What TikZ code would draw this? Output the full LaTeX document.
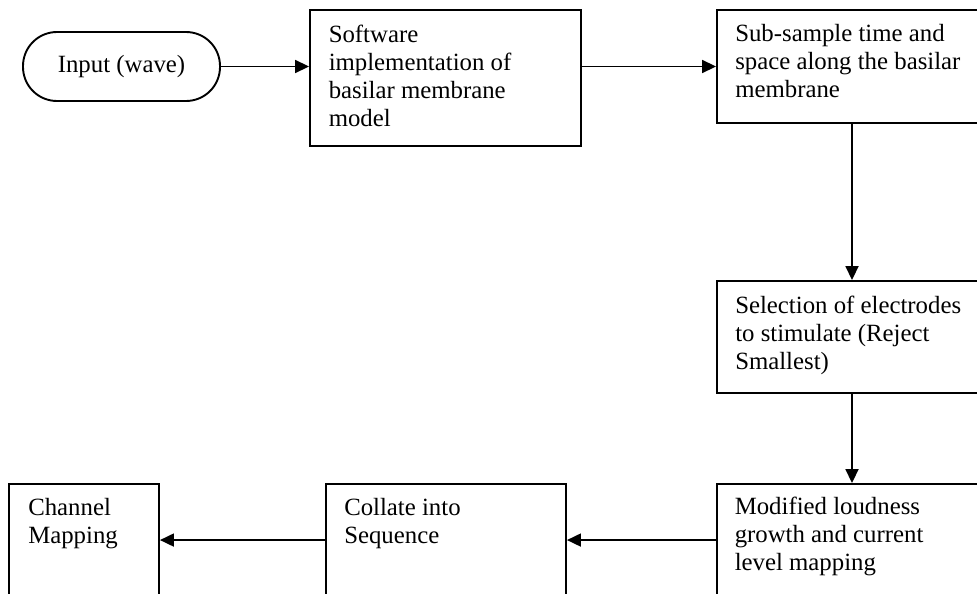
\documentclass[tikz,border=0pt]{standalone}
\usepackage{fontspec}
\setmainfont{Liberation Serif}
\usetikzlibrary{arrows.meta}
\begin{document}
\begin{tikzpicture}[x=1pt,y=-1pt,
  blk/.style={draw, line width=1.9pt, inner sep=0pt, rectangle},
  lbl/.style={anchor=north west, inner sep=0pt, align=left, font=\fontsize{24.8}{28}\selectfont},
  arr/.style={line width=1.8pt, -{Triangle[length=14pt,width=13pt]}}]
\useasboundingbox (0,0) rectangle (977,594);
\clip (0,0) rectangle (977,594);
% nodes
\node[draw, line width=1.9pt, rounded corners=34pt, minimum width=197pt, minimum height=69pt,
      font=\fontsize{24.8}{28}\selectfont] (inp) at (121.5,66.5) {Input (wave)\hspace{15pt}};
\node[blk, minimum width=271pt, minimum height=136pt] (sw) at (445.5,78) {};
\node[blk, minimum width=270pt, minimum height=113pt] (ss) at (852,66.5) {};
\node[blk, minimum width=270pt, minimum height=112pt] (sel) at (852,337) {};
\node[blk, minimum width=270pt, minimum height=140pt] (mod) at (852,554) {};
\node[blk, minimum width=240pt, minimum height=140pt] (col) at (446,554) {};
\node[blk, minimum width=150pt, minimum height=140pt] (ch) at (84,554) {};
% labels
\node[lbl] (swt) at ([xshift=19.5pt,yshift=-13.4pt]sw.north west) {\strut Software\\implementation of\\basilar membrane\\model};
\node[lbl] (sst) at ([xshift=19pt,yshift=-12.4pt]ss.north west) {\strut Sub-sample time and\\space along the basilar\\membrane};
\node[lbl] (selt) at ([xshift=19pt,yshift=-13.4pt]sel.north west) {\strut Selection of electrodes\\to stimulate (Reject\\Smallest)};
\node[lbl] (modt) at ([xshift=18.5pt,yshift=-11.8pt]mod.north west) {\strut Modified loudness\\growth and current\\level mapping};
\node[lbl] (colt) at ([xshift=19pt,yshift=-13pt]col.north west) {\strut Collate into\\Sequence};
\node[lbl] (cht) at ([xshift=20pt,yshift=-13pt]ch.north west) {\strut Channel\\Mapping};
% connectors
\draw[arr] (inp.east) -- (inp.east -| sw.west);
\draw[arr] (ss.west -| sw.east) -- (ss.west);
\draw[arr] (ss.south) -- (sel.north);
\draw[arr] (sel.south) -- (mod.north);
\draw[arr] ([yshift=-57pt]mod.north west) -- ([yshift=-57pt]col.north east);
\draw[arr] ([yshift=-57pt]col.north west) -- ([yshift=-57pt]ch.north east);
\end{tikzpicture}
\end{document}
